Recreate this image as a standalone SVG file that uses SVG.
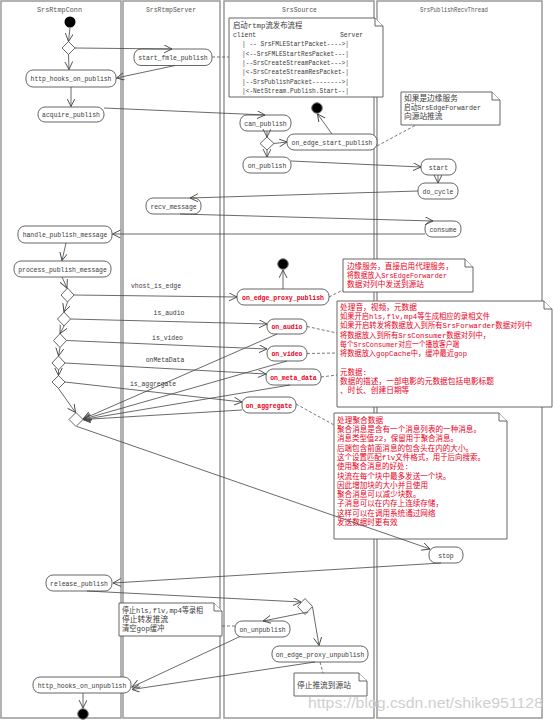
<svg xmlns="http://www.w3.org/2000/svg" width="554" height="721" viewBox="0 0 554 721">
<defs>
<marker id="a" markerUnits="userSpaceOnUse" markerWidth="9" markerHeight="9" refX="8" refY="4" orient="auto">
<path d="M0,0 L8,4 L0,8" fill="none" stroke="#444" stroke-width="0.9"/>
</marker>
</defs>
<style>
.lane{fill:#fff;stroke:#999;stroke-width:1.5}
.node rect{fill:#fff;stroke:#555;stroke-width:0.9}
.t{font-family:"Liberation Mono","Noto Sans CJK SC",monospace;font-size:7.7px;fill:#3a3a3a}
.m{text-anchor:middle}
.h{fill:#555;font-size:8px}
.red{fill:#e8001c}
.b{font-weight:bold}
.edges path{stroke:#444;stroke-width:0.8;fill:none;marker-end:url(#a)}
.dash path{stroke:#555;stroke-width:0.8;stroke-dasharray:3,2;fill:none}
.note path{fill:#fff;stroke:#555;stroke-width:0.9}
.dia{fill:#fff;stroke:#555;stroke-width:0.9}
.end{fill:#000;stroke:#777;stroke-width:1}
</style>
<rect width="554" height="721" fill="#fff"/>
<g id="lanes">
<rect class="lane" x="1" y="1" width="120" height="717"/>
<rect class="lane" x="123" y="1" width="97" height="717"/>
<rect class="lane" x="224" y="1" width="150" height="717"/>
<rect class="lane" x="377" y="1" width="165" height="717"/>
<text class="t m h" x="59.5" y="12" textLength="45" lengthAdjust="spacingAndGlyphs">SrsRtmpConn</text>
<text class="t m h" x="171" y="12" textLength="50" lengthAdjust="spacingAndGlyphs">SrsRtmpServer</text>
<text class="t m h" x="299.5" y="12" textLength="35" lengthAdjust="spacingAndGlyphs">SrsSource</text>
<text class="t m h" x="454" y="12" textLength="68" lengthAdjust="spacingAndGlyphs">SrsPublishRecvThread</text>
</g>
<g id="note1" class="note">
<path d="M229,18 H375 L383,26 V97 H229 Z"/><path d="M375,18 V26 H383"/>
<text class="t" x="233" y="27.7" textLength="69.3" lengthAdjust="spacingAndGlyphs">启动rtmp流发布流程</text>
<text class="t" x="233" y="37" textLength="23.1" lengthAdjust="spacingAndGlyphs">client</text>
<text class="t" x="340" y="37" textLength="23.1" lengthAdjust="spacingAndGlyphs">Server</text>
<text class="t" x="242" y="46.3" textLength="107" lengthAdjust="spacingAndGlyphs" xml:space="preserve">| -- SrsFMLEStartPacket----&gt;|</text>
<text class="t" x="242" y="55.6" textLength="107" lengthAdjust="spacingAndGlyphs">|&lt;--SrsFMLEStartResPacket---|</text>
<text class="t" x="242" y="64.9" textLength="107" lengthAdjust="spacingAndGlyphs">|--SrsCreateStreamPacket---&gt;|</text>
<text class="t" x="242" y="74.2" textLength="107" lengthAdjust="spacingAndGlyphs">|&lt;-SrsCreateStreamResPacket-|</text>
<text class="t" x="242" y="83.5" textLength="107" lengthAdjust="spacingAndGlyphs">|--SrsPublishPacket--------&gt;|</text>
<text class="t" x="242" y="92.8" textLength="107" lengthAdjust="spacingAndGlyphs">|&lt;-NetStream.Publish.Start--|</text>
</g>
<g id="note2" class="note">
<path d="M401,92 H492 L500,100 V125 H401 Z"/><path d="M492,92 V100 H500"/>
<text class="t" x="404" y="100.7" textLength="53.9" lengthAdjust="spacingAndGlyphs">如果是边缘服务</text>
<text class="t" x="404" y="110" textLength="77" lengthAdjust="spacingAndGlyphs">启动SrsEdgeForwarder</text>
<text class="t" x="404" y="119.3" textLength="38.5" lengthAdjust="spacingAndGlyphs">向源站推流</text>
</g>
<g id="note3" class="note">
<path d="M343,259 H465 L473,267 V292 H343 Z"/><path d="M465,259 V267 H473"/>
<text class="t red" x="347" y="268.7" textLength="106" lengthAdjust="spacingAndGlyphs">边缘服务，直接启用代理服务，</text>
<text class="t red" x="347" y="277.9" textLength="100" lengthAdjust="spacingAndGlyphs">将数据放入SrsEdgeForwarder</text>
<text class="t red" x="347" y="287.1" textLength="77" lengthAdjust="spacingAndGlyphs">数据对列中发送到源站</text>
</g>
<g id="note4" class="note">
<path d="M337,301 H544 L552,309 V407 H337 Z"/><path d="M544,301 V309 H552"/>
<text class="t red" x="340" y="309.7" textLength="77" lengthAdjust="spacingAndGlyphs">处理音，视频，元数据</text>
<text class="t red" x="340" y="319" textLength="150" lengthAdjust="spacingAndGlyphs">如果开启hls,flv,mp4等生成相应的录相文件</text>
<text class="t red" x="340" y="328.3" textLength="192" lengthAdjust="spacingAndGlyphs">如果开启转发将数据放入到所有SrsForwarder数据对列中</text>
<text class="t red" x="340" y="337.6" textLength="150" lengthAdjust="spacingAndGlyphs">将数据放入到所有SrsConsumer数据对列中，</text>
<text class="t red" x="340" y="346.9" textLength="119.4" lengthAdjust="spacingAndGlyphs">每个SrsConsumer对应一个播放客户端</text>
<text class="t red" x="340" y="356.2" textLength="127" lengthAdjust="spacingAndGlyphs">将数据放入gopCache中，缓冲最近gop</text>
<text class="t red" x="340" y="374.8" textLength="27" lengthAdjust="spacingAndGlyphs">元数据:</text>
<text class="t red" x="340" y="384.1" textLength="154" lengthAdjust="spacingAndGlyphs">数据的描述，一部电影的元数据包括电影标题</text>
<text class="t red" x="340" y="393.4" textLength="69.3" lengthAdjust="spacingAndGlyphs">、时长、创建日期等</text>
</g>
<g id="note5" class="note">
<path d="M334,413 H499 L507,421 V539 H334 Z"/><path d="M499,413 V421 H507"/>
<text class="t red" x="337" y="422.7" textLength="46.2" lengthAdjust="spacingAndGlyphs">处理聚合数据</text>
<text class="t red" x="337" y="432" textLength="144" lengthAdjust="spacingAndGlyphs">聚合消息是含有一个消息列表的一种消息。</text>
<text class="t red" x="337" y="441.3" textLength="121" lengthAdjust="spacingAndGlyphs">消息类型值22，保留用于聚合消息。</text>
<text class="t red" x="337" y="450.6" textLength="136" lengthAdjust="spacingAndGlyphs">后端包含前面消息的包含头在内的大小。</text>
<text class="t red" x="337" y="459.9" textLength="148" lengthAdjust="spacingAndGlyphs">这个设置匹配flv文件格式，用于后向搜索。</text>
<text class="t red" x="337" y="469.2" textLength="72" lengthAdjust="spacingAndGlyphs">使用聚合消息的好处:</text>
<text class="t red" x="337" y="478.5" textLength="113.5" lengthAdjust="spacingAndGlyphs">块流在每个块中最多发送一个块。</text>
<text class="t red" x="337" y="487.8" textLength="91" lengthAdjust="spacingAndGlyphs">因此增加块的大小并且使用</text>
<text class="t red" x="337" y="497.1" textLength="83.5" lengthAdjust="spacingAndGlyphs">聚合消息可以减少块数。</text>
<text class="t red" x="337" y="506.4" textLength="106" lengthAdjust="spacingAndGlyphs">子消息可以在内存上连续存储，</text>
<text class="t red" x="337" y="515.7" textLength="98.5" lengthAdjust="spacingAndGlyphs">这样可以在调用系统通过网络</text>
<text class="t red" x="337" y="525" textLength="60.6" lengthAdjust="spacingAndGlyphs">发送数据时更有效</text>
</g>
<g id="note6" class="note">
<path d="M294,673 H359 L367,681 V696 H294 Z"/><path d="M359,673 V681 H367"/>
<text class="t" x="297" y="687.7" textLength="53.9" lengthAdjust="spacingAndGlyphs">停止推流到源站</text>
</g>
<g id="note7" class="note">
<path d="M119,603 H214 L222,611 V636 H119 Z"/><path d="M214,603 V611 H222"/>
<text class="t" x="122" y="612.7" textLength="80.9" lengthAdjust="spacingAndGlyphs">停止hls,flv,mp4等录相</text>
<text class="t" x="122" y="621.9" textLength="46.2" lengthAdjust="spacingAndGlyphs">停止转发推流</text>
<text class="t" x="122" y="631.1" textLength="42.4" lengthAdjust="spacingAndGlyphs">清空gop缓冲</text>
</g>
<g id="start"><circle cx="70" cy="22" r="5.5" fill="#000"/></g>
<g id="end1"><circle class="end" cx="317" cy="108" r="5.3"/></g>
<g id="end2"><circle class="end" cx="283" cy="264" r="5.3"/></g>
<g id="end3"><circle class="end" cx="83" cy="714" r="5.3"/></g>
<g id="d1"><polygon class="dia" points="62,48 68.5,41.5 75,48 68.5,54.5"/></g>
<g id="d2"><polygon class="dia" points="260,143.5 267,137 274,143.5 267,150"/></g>
<g id="d3"><polygon class="dia" points="61,295 67.5,288 74,295 67.5,302"/></g>
<g id="d4"><polygon class="dia" points="57.5,319 64,312 70.5,319 64,326"/></g>
<g id="d5"><polygon class="dia" points="53.5,340.5 60,333.5 66.5,340.5 60,347.5"/></g>
<g id="d6"><polygon class="dia" points="52,363 58.5,356 65,363 58.5,370"/></g>
<g id="d7"><polygon class="dia" points="52,382 58.5,375.5 65,382 58.5,388.5"/></g>
<g id="d8"><polygon class="dia" points="69,419.5 76,412.5 83,419.5 76,426.5"/></g>
<g id="d9"><polygon class="dia" points="297.5,606.5 305,598.5 312.5,606.5 305,614.5"/></g>
<g id="n_http_hooks_on_publish" class="node"><rect x="26" y="70" width="90" height="17" rx="7"/><text class="t m" x="71" y="81.2" textLength="80.9" lengthAdjust="spacingAndGlyphs">http_hooks_on_publish</text></g>
<g id="n_acquire_publish" class="node"><rect x="38" y="107" width="66" height="15" rx="7"/><text class="t m" x="71" y="117.2" textLength="57.8" lengthAdjust="spacingAndGlyphs">acquire_publish</text></g>
<g id="n_start_fmle_publish" class="node"><rect x="134" y="49" width="78" height="16.5" rx="7"/><text class="t m" x="173" y="60" textLength="69.3" lengthAdjust="spacingAndGlyphs">start_fmle_publish</text></g>
<g id="n_can_publish" class="node"><rect x="240" y="115" width="51" height="16" rx="7"/><text class="t m" x="265.5" y="125.7" textLength="42.4" lengthAdjust="spacingAndGlyphs">can_publish</text></g>
<g id="n_on_edge_start_publish" class="node"><rect x="287" y="134" width="90" height="16" rx="7"/><text class="t m" x="332" y="144.7" textLength="80.9" lengthAdjust="spacingAndGlyphs">on_edge_start_publish</text></g>
<g id="n_on_publish" class="node"><rect x="243" y="157" width="48" height="16" rx="7"/><text class="t m" x="267" y="167.7" textLength="38.5" lengthAdjust="spacingAndGlyphs">on_publish</text></g>
<g id="n_start" class="node"><rect x="421" y="159" width="35" height="16" rx="7"/><text class="t m" x="438.5" y="169.7" textLength="19.3" lengthAdjust="spacingAndGlyphs">start</text></g>
<g id="n_do_cycle" class="node"><rect x="418" y="183" width="40" height="16" rx="7"/><text class="t m" x="438" y="193.7" textLength="30.8" lengthAdjust="spacingAndGlyphs">do_cycle</text></g>
<g id="n_recv_message" class="node"><rect x="146" y="198" width="55" height="16" rx="7"/><text class="t m" x="173.5" y="208.7" textLength="46.2" lengthAdjust="spacingAndGlyphs">recv_message</text></g>
<g id="n_consume" class="node"><rect x="425" y="221" width="36" height="16" rx="7"/><text class="t m" x="443" y="231.7" textLength="27" lengthAdjust="spacingAndGlyphs">consume</text></g>
<g id="n_handle_publish_message" class="node"><rect x="18" y="226" width="94" height="17" rx="7"/><text class="t m" x="65" y="237.2" textLength="84.7" lengthAdjust="spacingAndGlyphs">handle_publish_message</text></g>
<g id="n_process_publish_message" class="node"><rect x="14" y="261" width="97" height="16" rx="7"/><text class="t m" x="62.5" y="271.7" textLength="88.6" lengthAdjust="spacingAndGlyphs">process_publish_message</text></g>
<g id="n_on_edge_proxy_publish" class="node"><rect x="237" y="289" width="92" height="16" rx="7"/><text class="t m red b" x="283" y="299.7" textLength="82" lengthAdjust="spacingAndGlyphs">on_edge_proxy_publish</text></g>
<g id="n_on_audio" class="node"><rect x="267" y="319" width="40" height="15" rx="7"/><text class="t m red b" x="287" y="329.2" textLength="31" lengthAdjust="spacingAndGlyphs">on_audio</text></g>
<g id="n_on_video" class="node"><rect x="267" y="346" width="40" height="15" rx="7"/><text class="t m red b" x="287" y="356.2" textLength="31" lengthAdjust="spacingAndGlyphs">on_video</text></g>
<g id="n_on_meta_data" class="node"><rect x="266" y="369" width="55" height="16" rx="7"/><text class="t m red b" x="293.5" y="379.7" textLength="46.5" lengthAdjust="spacingAndGlyphs">on_meta_data</text></g>
<g id="n_on_aggregate" class="node"><rect x="242" y="397" width="54" height="16" rx="7"/><text class="t m red b" x="269" y="407.7" textLength="46.5" lengthAdjust="spacingAndGlyphs">on_aggregate</text></g>
<g id="n_stop" class="node"><rect x="429" y="547" width="34" height="16" rx="7"/><text class="t m" x="446" y="557.7" textLength="15.4" lengthAdjust="spacingAndGlyphs">stop</text></g>
<g id="n_release_publish" class="node"><rect x="46" y="575" width="66" height="16" rx="7"/><text class="t m" x="79" y="585.7" textLength="57.8" lengthAdjust="spacingAndGlyphs">release_publish</text></g>
<g id="n_on_unpublish" class="node"><rect x="235" y="621" width="55" height="16" rx="7"/><text class="t m" x="262.5" y="631.7" textLength="46.2" lengthAdjust="spacingAndGlyphs">on_unpublish</text></g>
<g id="n_on_edge_proxy_unpublish" class="node"><rect x="272" y="646" width="96" height="16" rx="7"/><text class="t m" x="320" y="656.7" textLength="88.6" lengthAdjust="spacingAndGlyphs">on_edge_proxy_unpublish</text></g>
<g id="n_http_hooks_on_unpublish" class="node"><rect x="33" y="677" width="98" height="16" rx="7"/><text class="t m" x="82" y="687.7" textLength="88.6" lengthAdjust="spacingAndGlyphs">http_hooks_on_unpublish</text></g>
<g id="dashes" class="dash">
<path d="M212,57 L229,57"/>
<path d="M377,146 L416,125"/>
<path d="M329,297 L343,290"/>
<path d="M307,326.5 L337,333"/>
<path d="M307,353.5 L337,353"/>
<path d="M321,377 L337,375"/>
<path d="M296,404 L334,425"/>
<path d="M235,626 L222,626"/>
<path d="M320,662 L323,673"/>
</g>
<g id="connectors" class="edges">
<path d="M70,27.5 L68.5,41.5"/>
<path d="M75,48 L172,49"/>
<path d="M68.5,54.5 L69,69.5"/>
<path d="M175,65.5 L116.5,78"/>
<path d="M71,87 L71,106.5"/>
<path d="M104,108 L265,115"/>
<path d="M267,131 L267,137"/>
<path d="M274,143.5 L287,142"/>
<path d="M267,150 L267,157"/>
<path d="M332,134 L317.5,114"/>
<path d="M291,161 L421,167"/>
<path d="M438,175 L438,183"/>
<path d="M418,191 L190,198"/>
<path d="M180,214 L433,221"/>
<path d="M425,234 L112.5,234"/>
<path d="M66,243 L62,260.5"/>
<path d="M62,277 L67,288"/>
<path d="M74,295 L237,297"/>
<path d="M283,289 L283,270"/>
<path d="M67.5,302 L64,312"/>
<path d="M70.5,319 L267,324"/>
<path d="M64,326 L60,333.5"/>
<path d="M66.5,340.5 L267,349"/>
<path d="M60,347.5 L58.5,356"/>
<path d="M65,363 L266,374"/>
<path d="M58.5,370 L58.5,375.5"/>
<path d="M65,382 L242,402"/>
<path d="M58.5,388.5 L75.5,412.5"/>
<path d="M277,334 L83,419"/>
<path d="M287,361 L83,419.3"/>
<path d="M290,385 L83,419.5"/>
<path d="M242,410 L83,419.5"/>
<path d="M77,426.5 L430,549"/>
<path d="M441,563 L113,583"/>
<path d="M87,591 L301,602"/>
<path d="M308,612 L263,621"/>
<path d="M312.5,607 L319,645.5"/>
<path d="M240,636.5 L132,687"/>
<path d="M315,662 L132,689.5"/>
<path d="M83,693 L83,708"/>
</g>
<g id="edge-labels">
<text class="t m" x="156" y="287.5" textLength="50" lengthAdjust="spacingAndGlyphs">vhost_is_edge</text>
<text class="t m" x="169" y="314.5" textLength="30.8" lengthAdjust="spacingAndGlyphs">is_audio</text>
<text class="t m" x="167.5" y="339.5" textLength="30.8" lengthAdjust="spacingAndGlyphs">is_video</text>
<text class="t m" x="165" y="361.5" textLength="38.5" lengthAdjust="spacingAndGlyphs">onMetaData</text>
<text class="t m" x="153" y="385.5" textLength="46.2" lengthAdjust="spacingAndGlyphs">is_aggregate</text>
</g>
<text x="308" y="708" font-family="Liberation Sans, sans-serif" font-size="14" fill="#d0d0d0" textLength="235" lengthAdjust="spacingAndGlyphs">https://blog.csdn.net/shike951128</text>
</svg>
